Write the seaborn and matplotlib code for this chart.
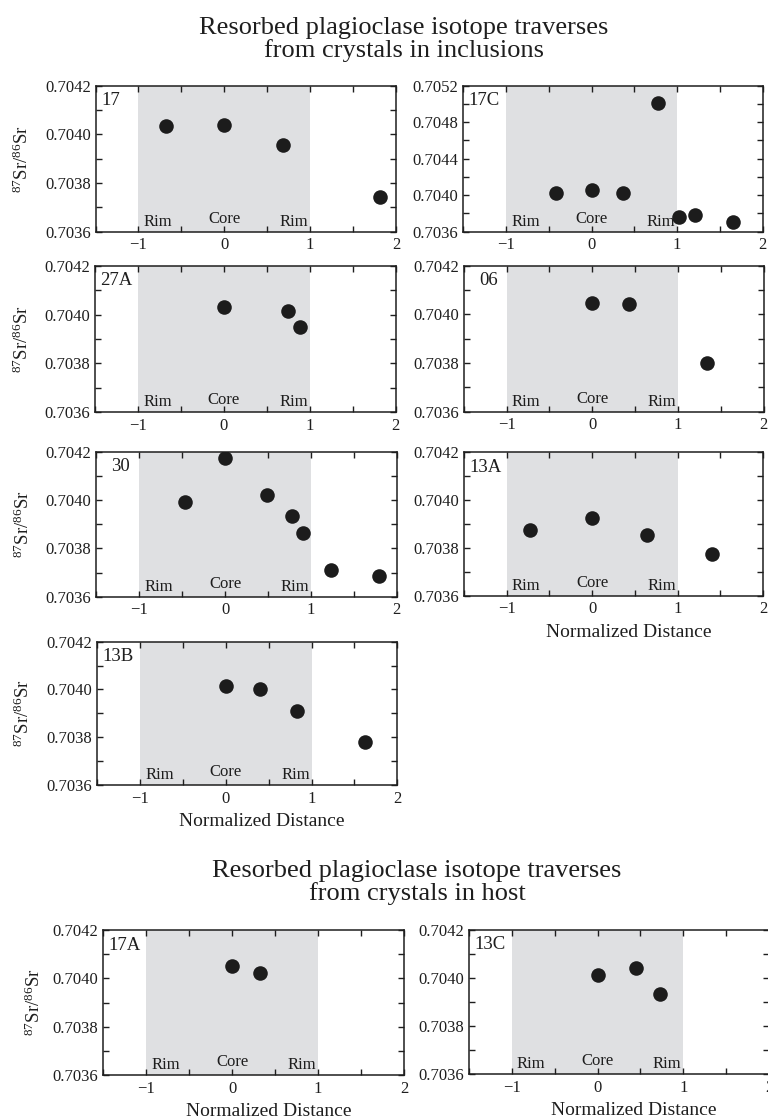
import matplotlib
matplotlib.use('Agg')
import matplotlib.pyplot as plt
import seaborn as sns
from matplotlib.ticker import MultipleLocator, FuncFormatter

# data (normalized distance, 87Sr/86Sr)
x_17 = [-0.68, 0.0, 0.68, 1.81]
y_17 = [0.704034, 0.704038, 0.703958, 0.703744]

x_17C = [-0.41, 0.0, 0.37, 0.78, 1.02, 1.21, 1.66]
y_17C = [0.70402, 0.704053, 0.70402, 0.705005, 0.703764, 0.703779, 0.70371]

x_27A = [0.0, 0.75, 0.89]
y_27A = [0.704032, 0.704013, 0.70395]

x_06 = [0.0, 0.43, 1.34]
y_06 = [0.704045, 0.704041, 0.703799]

x_30 = [-0.47, 0.0, 0.49, 0.78, 0.91, 1.235, 1.80]
y_30 = [0.70399, 0.704172, 0.704022, 0.703935, 0.703863, 0.703709, 0.703686]

x_13A = [-0.73, 0.0, 0.64, 1.40]
y_13A = [0.703874, 0.703926, 0.703854, 0.703776]

x_13B = [0.0, 0.40, 0.83, 1.62]
y_13B = [0.704014, 0.704001, 0.703909, 0.703778]

x_17A = [0.0, 0.32]
y_17A = [0.70405, 0.704021]

x_13C = [0.0, 0.45, 0.725]
y_13C = [0.704012, 0.704043, 0.703932]

sns.set_theme(style='ticks')
plt.rcParams['font.family'] = ['Liberation Serif', 'DejaVu Serif']
plt.rcParams['mathtext.fontset'] = 'custom'
plt.rcParams['mathtext.rm'] = 'Liberation Serif'
plt.rcParams['mathtext.it'] = 'Liberation Serif:italic'
plt.rcParams['mathtext.default'] = 'regular'
plt.rcParams['text.color'] = '#1e1e1e'
plt.rcParams['axes.labelcolor'] = '#1e1e1e'
plt.rcParams['xtick.color'] = '#1e1e1e'
plt.rcParams['ytick.color'] = '#1e1e1e'

W, H = 768, 1119
fig = plt.figure(figsize=(W / 100, H / 100), dpi=100)
fig.patch.set_facecolor('white')


def panel(box, name, xs, ys, ylim=(0.7036, 0.7042), ystep=0.0002,
          ylab=None, xlab=False, name_x=0.018):
    l, t, r, b = box
    ax = fig.add_axes([l / W, 1 - b / H, (r - l) / W, (b - t) / H])
    ax.set_facecolor('white')
    ax.axvspan(-1, 1, facecolor='#dfe0e2', edgecolor='none', zorder=0)
    sns.scatterplot(x=xs, y=ys, ax=ax, s=110, color='#1c1c1c',
                    linewidth=0, zorder=3)
    ax.set_xlim(-1.5, 2)
    ax.set_ylim(*ylim)
    ax.xaxis.set_major_locator(MultipleLocator(1))
    ax.xaxis.set_minor_locator(MultipleLocator(0.5))
    ax.yaxis.set_major_locator(MultipleLocator(ystep))
    ax.yaxis.set_minor_locator(MultipleLocator(ystep / 2))
    ax.yaxis.set_major_formatter(FuncFormatter(lambda v, p: f'{v:.4f}'))
    ax.tick_params(which='both', direction='in', top=True, right=True,
                   length=4, width=1, labelsize=12)
    ax.tick_params(axis='y', pad=3.5)
    ax.tick_params(axis='x', pad=4)
    for sp in ax.spines.values():
        sp.set_linewidth(1.1)
        sp.set_color('#1e1e1e')
    trans = ax.get_xaxis_transform()
    ax.text(-0.94, 0.04, 'Rim', transform=trans, ha='left', va='baseline', fontsize=12)
    ax.text(0, 0.06, 'Core', transform=trans, ha='center', va='baseline', fontsize=12)
    ax.text(0.98, 0.04, 'Rim', transform=trans, ha='right', va='baseline', fontsize=12)
    ax.text(name_x, 0.955, name, transform=ax.transAxes, ha='left', va='top', fontsize=13.5)
    if ylab is not None:
        ax.set_ylabel(r'$^{87}$Sr/$^{86}$Sr', fontsize=13.5)
        ax.yaxis.label.set_va('center')
        ax.yaxis.set_label_coords(ylab, 0.5)
    if xlab:
        ax.set_xlabel('Normalized Distance', fontsize=14)
        ax.xaxis.label.set_va('baseline')
        ax.xaxis.set_label_coords(0.55, -41 / (b - t))
    return ax


panel((95.5, 85.7, 396, 231.7), '17', x_17, y_17, ylab=-0.242)
panel((463.3, 85.7, 762.5, 231.7), '17C', x_17C, y_17C,
      ylim=(0.7036, 0.7052), ystep=0.0004)
panel((95, 265.7, 395.5, 412.3), '27A', x_27A, y_27A, ylab=-0.242)
panel((463.8, 265.7, 763.5, 411.7), '06', x_06, y_06, name_x=0.05)
panel((96.3, 451.7, 396.6, 596.7), '30', x_30, y_30, ylab=-0.242, name_x=0.048)
panel((464, 452.3, 763, 595.7), '13A', x_13A, y_13A, xlab=True)
panel((97, 641.7, 397.3, 785), '13B', x_13B, y_13B, ylab=-0.245, xlab=True)
panel((103.3, 930, 404, 1075), '17A', x_17A, y_17A, ylab=-0.23, xlab=True)
panel((469, 930, 769, 1074), '13C', x_13C, y_13C, xlab=True)

fig.text(404 / W, 1 - 34 / H, 'Resorbed plagioclase isotope traverses',
         ha='center', va='baseline', fontsize=19)
fig.text(404 / W, 1 - 57 / H, 'from crystals in inclusions',
         ha='center', va='baseline', fontsize=19)
fig.text(417 / W, 1 - 877 / H, 'Resorbed plagioclase isotope traverses',
         ha='center', va='baseline', fontsize=19)
fig.text(417 / W, 1 - 900 / H, 'from crystals in host',
         ha='center', va='baseline', fontsize=19)

fig.savefig('out.png', dpi=100, facecolor='white')
